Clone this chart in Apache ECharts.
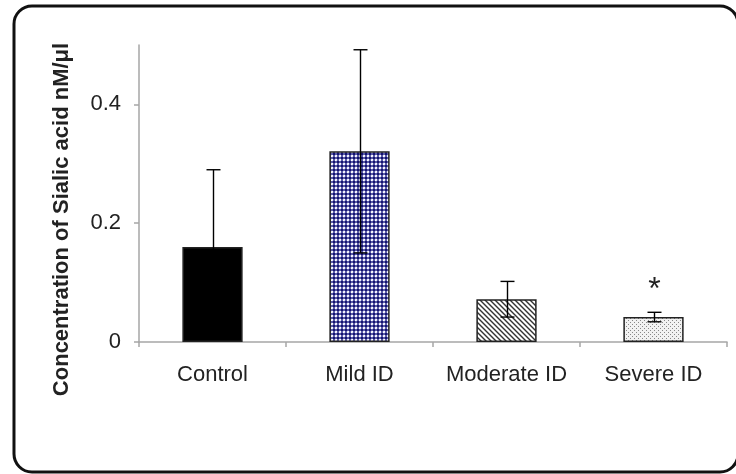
<!DOCTYPE html>
<html>
<head>
<meta charset="utf-8">
<script src="https://cdn.jsdelivr.net/npm/echarts@6.0.0/dist/echarts.min.js"></script>
<style>
html,body{margin:0;padding:0;background:#fff;}
#chart{width:736px;height:474px;}
</style>
</head>
<body>
<div id="chart"></div>
<script>
// ---- data ----
var categories = ['Control', 'Mild ID', 'Moderate ID', 'Severe ID'];
var means = [0.16, 0.321, 0.072, 0.042];
var sds = [0.13, 0.171, 0.03, 0.008];
var significance = ['', '', '', '*'];
var yTicks = [0, 0.2, 0.4];
var yTitle = 'Concentration of Sialic acid nM/\u03bcl';

// ---- patterns (styles) ----
function makePattern(w, h, draw) {
  var c = document.createElement('canvas');
  c.width = w; c.height = h;
  var ctx = c.getContext('2d');
  draw(ctx);
  return { image: c, repeat: 'repeat' };
}
var dotsBlue = makePattern(4, 4, function (ctx) {
  ctx.fillStyle = '#ffffff'; ctx.fillRect(0, 0, 4, 4);
  ctx.fillStyle = '#5a5aa8'; ctx.fillRect(0, 1, 4, 2); ctx.fillRect(1, 0, 2, 4);
  ctx.fillStyle = '#14146e'; ctx.fillRect(1, 1, 2, 2);
  ctx.fillStyle = '#e8e8f8'; ctx.fillRect(3, 3, 1, 1); ctx.fillRect(0, 0, 1, 1);
});
var hatch = makePattern(5, 5, function (ctx) {
  ctx.fillStyle = '#ffffff'; ctx.fillRect(0, 0, 5, 5);
  ctx.strokeStyle = '#333333'; ctx.lineWidth = 1.4;
  ctx.beginPath();
  ctx.moveTo(-1, -1); ctx.lineTo(6, 6);
  ctx.moveTo(-1, 4); ctx.lineTo(1, 6);
  ctx.moveTo(4, -1); ctx.lineTo(6, 1);
  ctx.stroke();
});
var dotsGray = makePattern(4, 4, function (ctx) {
  ctx.fillStyle = '#f2f2f2'; ctx.fillRect(0, 0, 4, 4);
  ctx.fillStyle = '#888888';
  ctx.fillRect(0, 0, 1, 1);
  ctx.fillRect(2, 2, 1, 1);
});
var fills = ['#000000', dotsBlue, hatch, dotsGray];

var barData = means.map(function (v, i) {
  return { value: v, itemStyle: { color: fills[i] } };
});
var errData = means.map(function (v, i) {
  return [i, v - sds[i], v + sds[i]];
});

var chart = echarts.init(document.getElementById('chart'), null, { renderer: 'canvas' });
var axisGray = '#a6a6a6';
chart.setOption({
  animation: false,
  backgroundColor: '#ffffff',
  grid: { left: 139, right: 9, top: 45, bottom: 132 },
  graphic: [{
    type: 'rect',
    shape: { x: 14, y: 6, width: 724, height: 466, r: 18 },
    style: { fill: 'none', stroke: '#111111', lineWidth: 3 },
    silent: true
  }],
  xAxis: {
    type: 'category',
    data: categories,
    axisLine: { lineStyle: { color: axisGray, width: 1.5 } },
    axisTick: { show: true, length: 5, lineStyle: { color: axisGray, width: 1.5 } },
    axisLabel: { interval: 0, color: '#222', fontSize: 22, fontFamily: 'Liberation Sans, Arial, sans-serif', margin: 22 }
  },
  yAxis: {
    type: 'value',
    min: 0,
    max: 0.5,
    name: yTitle,
    nameLocation: 'middle',
    nameGap: 66,
    nameRotate: 90,
    nameTextStyle: { color: '#222', fontSize: 22, fontWeight: 'bold', fontFamily: 'Liberation Sans, Arial, sans-serif', padding: [0, 52, 0, 0] },
    splitLine: { show: false },
    axisLine: { show: true, lineStyle: { color: axisGray, width: 1.5 } },
    axisTick: { show: true, length: 5, customValues: yTicks, lineStyle: { color: axisGray, width: 1.5 } },
    axisLabel: { customValues: yTicks, color: '#222', fontSize: 22, fontFamily: 'Liberation Sans, Arial, sans-serif', margin: 18 }
  },
  series: [{
    type: 'bar',
    data: barData,
    barWidth: '41%',
    itemStyle: { borderColor: '#222222', borderWidth: 1.5 }
  }, {
    type: 'custom',
    data: errData,
    z: 10,
    renderItem: function (params, api) {
      var i = api.value(0);
      var lo = api.coord([i, api.value(1)]);
      var hi = api.coord([i, api.value(2)]);
      var x = Math.round(hi[0]) + 0.5;
      var cap = 7;
      var style = { stroke: '#000000', lineWidth: 1.4 };
      var children = [
        { type: 'line', shape: { x1: x, y1: lo[1], x2: x, y2: hi[1] }, style: style },
        { type: 'line', shape: { x1: x - cap, y1: hi[1], x2: x + cap, y2: hi[1] }, style: style },
        { type: 'line', shape: { x1: x - cap, y1: lo[1], x2: x + cap, y2: lo[1] }, style: style }
      ];
      if (significance[i]) {
        children.push({
          type: 'text',
          style: { text: significance[i], x: x, y: hi[1] - 22, align: 'center', verticalAlign: 'middle', fontSize: 32, fill: '#222', fontFamily: 'Liberation Sans, Arial, sans-serif' }
        });
      }
      return { type: 'group', children: children };
    }
  }]
});
</script>
</body>
</html>
